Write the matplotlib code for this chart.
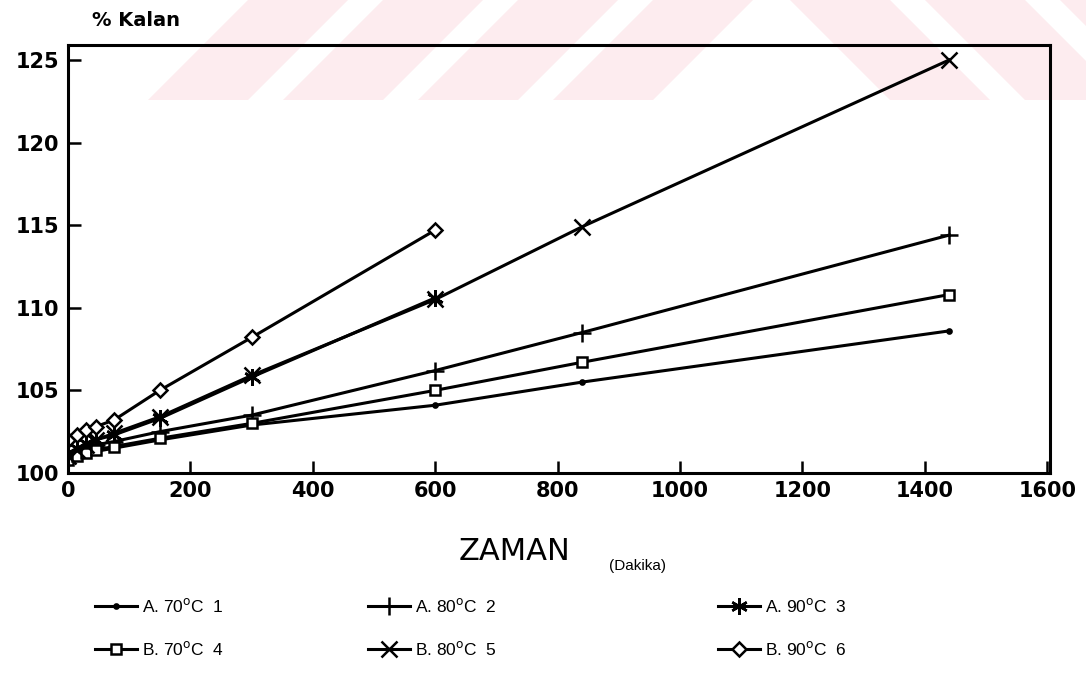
import matplotlib
matplotlib.use("Agg")
import matplotlib.pyplot as plt
from matplotlib.lines import Line2D
from matplotlib.patches import Polygon

# zaman (dakika)
t_all = [0, 15, 30, 45, 75, 150, 300, 600, 840, 1440]
t_short = [0, 15, 30, 45, 75, 150, 300, 600]

a70 = [100.6, 100.9, 101.1, 101.3, 101.5, 102.0, 102.9, 104.1, 105.5, 108.6]
a80 = [101.0, 101.3, 101.5, 101.7, 101.9, 102.5, 103.5, 106.2, 108.5, 114.4]
a90 = [101.2, 101.5, 101.8, 102.0, 102.3, 103.3, 105.8, 110.6]
b70 = [100.8, 101.0, 101.2, 101.4, 101.6, 102.1, 103.0, 105.0, 106.7, 110.8]
b80 = [101.0, 101.4, 101.7, 102.0, 102.4, 103.4, 105.9, 110.5, 114.9, 125.0]
b90 = [102.0, 102.3, 102.6, 102.8, 103.2, 105.0, 108.2, 114.7]

labels = ["A. 70$^{\\rm o}$C", "A. 80$^{\\rm o}$C", "A. 90$^{\\rm o}$C",
          "B. 70$^{\\rm o}$C", "B. 80$^{\\rm o}$C", "B. 90$^{\\rm o}$C"]
nums = ["1", "2", "3", "4", "5", "6"]

fig = plt.figure(figsize=(10.86, 6.75), dpi=100)

# soluk pembe filigran
W, H = 1086.0, 675.0
def fpoly(pts):
    return Polygon([(x / W, 1 - y / H) for x, y in pts], closed=True,
                   transform=fig.transFigure, facecolor="#fdecef",
                   edgecolor="none", zorder=-5)
for x0 in [148, 283, 418, 553]:
    fig.patches.append(fpoly([(x0, 100), (x0 + 100, 100), (x0 + 200, 0), (x0 + 100, 0)]))
for x0 in [790, 925, 1060]:
    fig.patches.append(fpoly([(x0, 0), (x0 + 100, 0), (x0 + 200, 100), (x0 + 100, 100)]))

ax = fig.add_axes([0.0626, 0.2993, 0.904, 0.634])
ax.patch.set_alpha(0)

kw = dict(color="black", lw=2.2, mew=1.8)
ax.plot(t_all, a70, marker="o", ms=3, **kw)
ax.plot(t_all, a80, marker="+", ms=13, **kw)
ax.plot(t_short, a90, marker=(6, 2, 0), ms=12, **kw)
ax.plot(t_all, b70, marker="s", ms=7, mfc="white", **kw)
ax.plot(t_all, b80, marker="x", ms=11, **kw)
ax.plot(t_short, b90, marker="D", ms=7, mfc="white", **kw)

ax.set_xlim(0, 1604)
ax.set_ylim(100, 125.9)
ax.set_xticks(range(0, 1601, 200))
ax.set_yticks([100, 105, 110, 115, 120, 125])
ax.tick_params(direction="in", length=9, width=1.8, labelsize=15, pad=6)
for lab in ax.get_xticklabels() + ax.get_yticklabels():
    lab.set_fontweight("bold")
for s in ax.spines.values():
    s.set_linewidth(2.2)

fig.text(92 / W, 1 - 20 / H, "% Kalan", fontsize=14, fontweight="bold", va="center")
fig.text(515 / W, 1 - 552 / H, "ZAMAN", fontsize=22, va="center", ha="center")
fig.text(637 / W, 1 - 566 / H, "(Dakika)", fontsize=11, va="center", ha="center",
         family="Liberation Sans")

markers = [dict(marker="o", ms=3), dict(marker="+", ms=13), dict(marker=(6, 2, 0), ms=12),
           dict(marker="s", ms=7, mfc="white"), dict(marker="x", ms=11),
           dict(marker="D", ms=7, mfc="white")]

col_x = [95, 368, 718]
for c in range(3):
    hs, ls = [], []
    for r in range(2):
        i = c + 3 * r
        hs.append(Line2D([], [], color="black", lw=2.2, mew=1.8, **markers[i]))
        ls.append(labels[i] + "  " + nums[i])
    fig.legend(hs, ls, loc="upper left", bbox_to_anchor=(col_x[c] / W, 1 - 597 / H),
               frameon=False, handlelength=2.4, handletextpad=0.3,
               labelspacing=1.45, borderpad=0, borderaxespad=0,
               prop={"family": "Liberation Sans", "size": 12.5})

fig.savefig("out.png", dpi=100)
